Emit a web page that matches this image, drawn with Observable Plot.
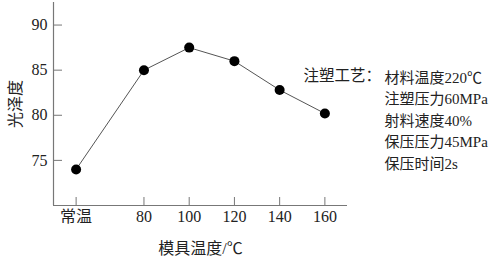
<!DOCTYPE html>
<html>
<head>
<meta charset="utf-8">
<script src="https://cdn.jsdelivr.net/npm/d3@7"></script>
<script src="https://cdn.jsdelivr.net/npm/@observablehq/plot@0.6"></script>
<style>
  html, body { margin: 0; padding: 0; background: #fff; overflow: hidden; }
  #chart svg { display: block; font-family: "Liberation Serif", "Noto Sans CJK SC", serif !important; }
  #chart svg text { font-family: "Liberation Serif", "Noto Sans CJK SC", serif !important; }
</style>
</head>
<body>
<div id="chart"></div>
<script>
// Mold temperature positions (常温 placed at 50 on the axis) and tick labels
const moldTemps = [50, 80, 100, 120, 140, 160];
const tickLabels = ["常温", "80", "100", "120", "140", "160"];
// Gloss values
const gloss = [74, 85, 87.5, 86, 82.8, 80.2];
const yTicks = [75, 80, 85, 90];
const processTitle = "注塑工艺：";
const processLines = ["材料温度220℃", "注塑压力60MPa", "射料速度40%", "保压压力45MPa", "保压时间2s"];

const data = moldTemps.map((t, i) => ({temp: t, gloss: gloss[i]}));
const fontFamily = '"Liberation Serif", "Noto Sans CJK SC", serif';

const W = 490, H = 256, mL = 53, mR = 143, mT = 2, mB = 51;
const frameW = W - mL - mR, frameH = H - mT - mB;

const chart = Plot.plot({
  width: W, height: H,
  marginLeft: mL, marginRight: mR, marginTop: mT, marginBottom: mB,
  style: {fontFamily, fontSize: "16px", color: "#222", background: "#fff"},
  x: {domain: [40, 170]},
  y: {domain: [70, 92.5]},
  marks: [
    Plot.axisX({
      ticks: moldTemps,
      tickFormat: d => tickLabels[moldTemps.indexOf(d)],
      tickSize: 0, tickPadding: 5,
      fontSize: 16, fontFamily, fill: "#222",
      label: "模具温度/℃", labelAnchor: "center", labelArrow: "none", labelOffset: 48
    }),
    Plot.axisY({
      ticks: yTicks,
      tickSize: 0, tickPadding: 6,
      fontSize: 16, fontFamily, fill: "#222",
      label: "光泽度", labelAnchor: "center", labelArrow: "none", labelOffset: 44
    }),
    // inward tick marks
    Plot.tickX(moldTemps, {x: d => d, stroke: "#777", strokeWidth: 1, insetTop: frameH - 8}),
    Plot.tickY(yTicks, {y: d => d, stroke: "#777", strokeWidth: 1, insetRight: frameW - 9}),
    Plot.ruleX([40], {stroke: "#777", strokeWidth: 1.2}),
    Plot.ruleY([70], {stroke: "#777", strokeWidth: 1.2}),
    Plot.line(data, {x: "temp", y: "gloss", stroke: "#555", strokeWidth: 1}),
    Plot.dot(data, {x: "temp", y: "gloss", r: 5, fill: "#000", stroke: "none"}),
    Plot.text([processTitle], {frameAnchor: "top-left", dx: 250, dy: 67, textAnchor: "start", lineAnchor: "top", fontSize: 15.5, fontFamily, fill: "#222"}),
    Plot.text([processLines.join("\n")], {frameAnchor: "top-left", dx: 331, dy: 65, textAnchor: "start", lineAnchor: "top", lineHeight: 1.43, fontSize: 15, fontFamily, fill: "#222"})
  ]
});
document.getElementById("chart").appendChild(chart);
</script>
</body>
</html>
